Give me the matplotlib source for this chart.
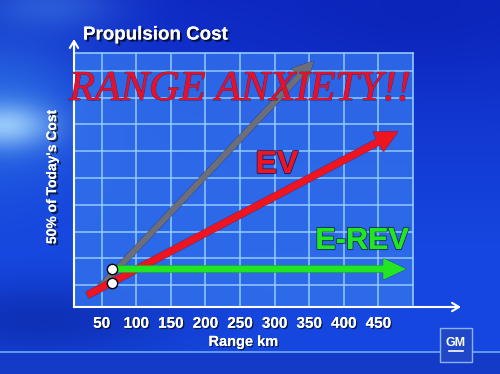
import numpy as np
import matplotlib
matplotlib.use('Agg')
import matplotlib.pyplot as plt
from matplotlib import patheffects as pe
from matplotlib.patches import Rectangle
from matplotlib.lines import Line2D

# ---------------- data ----------------
range_ticks = [50, 100, 150, 200, 250, 300, 350, 400, 450]
range_labels = ['50', '100', '150', '200', '250', '300', '350', '400', '450']
cost_grid = [1, 2, 3, 4, 5, 6, 7, 8, 9]

ev_range = [30, 477]
ev_cost = [0.63, 6.72]
conv_range = [45, 355]
conv_cost = [0.85, 9.34]
erev_range = [65, 488]
erev_cost = [1.60, 1.60]
point_range = [65, 65]
point_cost = [1.60, 1.07]

W, H, DPI = 500, 374, 100
SANS = ['Liberation Sans', 'DejaVu Sans']


def P(x, y):
    return (x / W, 1 - y / H)


fig = plt.figure(figsize=(W / DPI, H / DPI), dpi=DPI)

# ---------------- background ----------------
bg = fig.add_axes([0, 0, 1, 1], zorder=-10)
yy, xx = np.mgrid[0:H, 0:W].astype(float)
top = np.array([14, 42, 196]) / 255
mid = np.array([22, 72, 225]) / 255
t = np.clip(yy / 260, 0, 1)[..., None]
img = top * (1 - t) + mid * t


def glow(img, cx, cy, sx, sy, col, w):
    g = np.exp(-(((xx - cx) / sx) ** 2 + ((yy - cy) / sy) ** 2))[..., None] * w
    return img * (1 - g) + np.array(col) / 255 * g


img = glow(img, 0, 110, 95, 80, [60, 150, 245], 0.55)
img = glow(img, 5, 125, 45, 22, [175, 222, 255], 0.8)
img = glow(img, 50, 5, 70, 25, [80, 150, 240], 0.4)
img = glow(img, 40, 320, 140, 40, [8, 30, 150], 0.55)
img = glow(img, 420, 20, 150, 60, [8, 28, 170], 0.4)
band = (yy >= 353)[..., None]
img = np.where(band, np.array([20, 58, 200]) / 255, img)
line = ((yy >= 351) & (yy < 353))[..., None]
img = np.where(line, np.array([95, 150, 240]) / 255, img)
bg.imshow(np.clip(img, 0, 1), extent=[0, W, H, 0], aspect='auto')
bg.set_xlim(0, W)
bg.set_ylim(H, 0)
bg.axis('off')

# ---------------- main axes ----------------
ax = fig.add_axes([74 / W, (H - 307) / H, 339 / W, 254 / H])
ax.set_facecolor((0.2, 0.45, 0.93, 0.8))
ax.set_xlim(10, 500)
ax.set_ylim(0.18, 9.67)
ax.set_xticks(range_ticks)
ax.set_xticklabels(range_labels)
ax.set_yticks(cost_grid)
ax.set_yticklabels([])
ax.tick_params(axis='both', length=0)
ax.tick_params(axis='x', pad=7, labelcolor='white', labelsize=11)
for lab in ax.get_xticklabels():
    lab.set_fontweight('bold')
    lab.set_family(SANS)
    lab.set_path_effects([pe.withSimplePatchShadow(offset=(1, -1), shadow_rgbFace='k', alpha=0.6), pe.Normal()])
ax.grid(True, color=(0.62, 0.83, 1.0), lw=1.1, alpha=0.9)
for s in ['top', 'right']:
    ax.spines[s].set_color((0.62, 0.83, 1.0))
    ax.spines[s].set_linewidth(1.1)
for s in ['left', 'bottom']:
    ax.spines[s].set_visible(False)

ax.set_xlabel('Range km', color='white', fontsize=10.5, fontweight='bold',
              family=SANS, labelpad=3,
              path_effects=[pe.withSimplePatchShadow(offset=(1, -1), shadow_rgbFace='k', alpha=0.6), pe.Normal()])

outline = [pe.withStroke(linewidth=1.5, foreground=(0.05, 0.05, 0.25, 0.5))]

ax.annotate('', xy=(conv_range[1], conv_cost[1]), xytext=(conv_range[0], conv_cost[0]),
            arrowprops=dict(arrowstyle='simple,head_length=1.5,head_width=1.6,tail_width=0.38',
                            mutation_scale=9, color='#6c6e7a', shrinkA=0, shrinkB=0,
                            path_effects=outline), zorder=3)
ax.annotate('', xy=(ev_range[1], ev_cost[1]), xytext=(ev_range[0], ev_cost[0]),
            arrowprops=dict(arrowstyle='simple,head_length=1.5,head_width=1.5,tail_width=0.42',
                            mutation_scale=10, color='#ee1420', shrinkA=0, shrinkB=0,
                            path_effects=outline), zorder=4)
ax.annotate('', xy=(erev_range[1], erev_cost[1]), xytext=(erev_range[0], erev_cost[0]),
            arrowprops=dict(arrowstyle='simple,head_length=1.5,head_width=1.4,tail_width=0.42',
                            mutation_scale=10, color='#22e622', shrinkA=0, shrinkB=0,
                            path_effects=outline), zorder=5)
ax.scatter(point_range, point_cost, s=55, color='white', edgecolor='black', lw=1, zorder=6)

# ---------------- axis arrows ----------------
fig.add_artist(Line2D([74 / W, 74 / W], [(H - 307) / H, (H - 45) / H], color='white', lw=1.5,
                      transform=fig.transFigure))
fig.add_artist(Line2D([74 / W, 455 / W], [(H - 307) / H, (H - 307) / H], color='white', lw=1.5,
                      transform=fig.transFigure))
ax.annotate('', xy=P(74, 39), xytext=P(74, 50), xycoords='figure fraction', textcoords='figure fraction',
            arrowprops=dict(arrowstyle='->,head_length=0.5,head_width=0.3', color='white', lw=1.5,
                            shrinkA=0, shrinkB=0))
ax.annotate('', xy=P(461, 307), xytext=P(450, 307), xycoords='figure fraction', textcoords='figure fraction',
            arrowprops=dict(arrowstyle='->,head_length=0.5,head_width=0.3', color='white', lw=1.5,
                            shrinkA=0, shrinkB=0))

# ---------------- texts ----------------
shadow = [pe.withSimplePatchShadow(offset=(1.5, -1.5), shadow_rgbFace='k', alpha=0.7), pe.Normal()]
fig.text(*P(83, 35), 'Propulsion Cost', color='white', fontsize=13.5, fontweight='bold',
         family=SANS, ha='left', va='center', path_effects=shadow)
fig.text(*P(52, 177), "50% of Today's Cost", color='white', fontsize=10, fontweight='bold',
         family=SANS, ha='center', va='center', rotation=90, path_effects=shadow)
fig.text(*P(240, 100), 'RANGE ANXIETY!!', color='#e3122c', fontsize=30.5, style='italic',
         family=['Liberation Serif', 'DejaVu Serif'], ha='center', va='baseline',
         path_effects=[pe.withStroke(linewidth=0.8, foreground=(0.3, 0, 0.1, 0.6)), pe.Normal()])
fig.text(*P(277, 165), 'EV', color='#ee1420', fontsize=23, fontweight='bold',
         family=SANS, ha='center', va='center',
         path_effects=[pe.withStroke(linewidth=1.5, foreground=(0.1, 0, 0.2, 0.7)), pe.Normal()])
fig.text(*P(362, 241), 'E-REV', color='#22e622', fontsize=22, fontweight='bold',
         family=SANS, ha='center', va='center',
         path_effects=[pe.withStroke(linewidth=1.5, foreground=(0, 0.15, 0.1, 0.7)), pe.Normal()])

# ---------------- GM logo ----------------
fig.add_artist(Rectangle(P(440, 362), 32 / W, 34 / H, transform=fig.transFigure,
                         facecolor=(0.12, 0.28, 0.78), edgecolor=(0.55, 0.7, 0.98), lw=1))
fig.text(*P(456, 343), 'GM', color='white', fontsize=9, fontweight='bold', family=SANS,
         ha='center', va='center')
fig.add_artist(Line2D([449 / W, 463 / W], [(H - 351) / H, (H - 351) / H], color='white', lw=1.2,
                      transform=fig.transFigure))

fig.savefig('out.png', dpi=DPI)
